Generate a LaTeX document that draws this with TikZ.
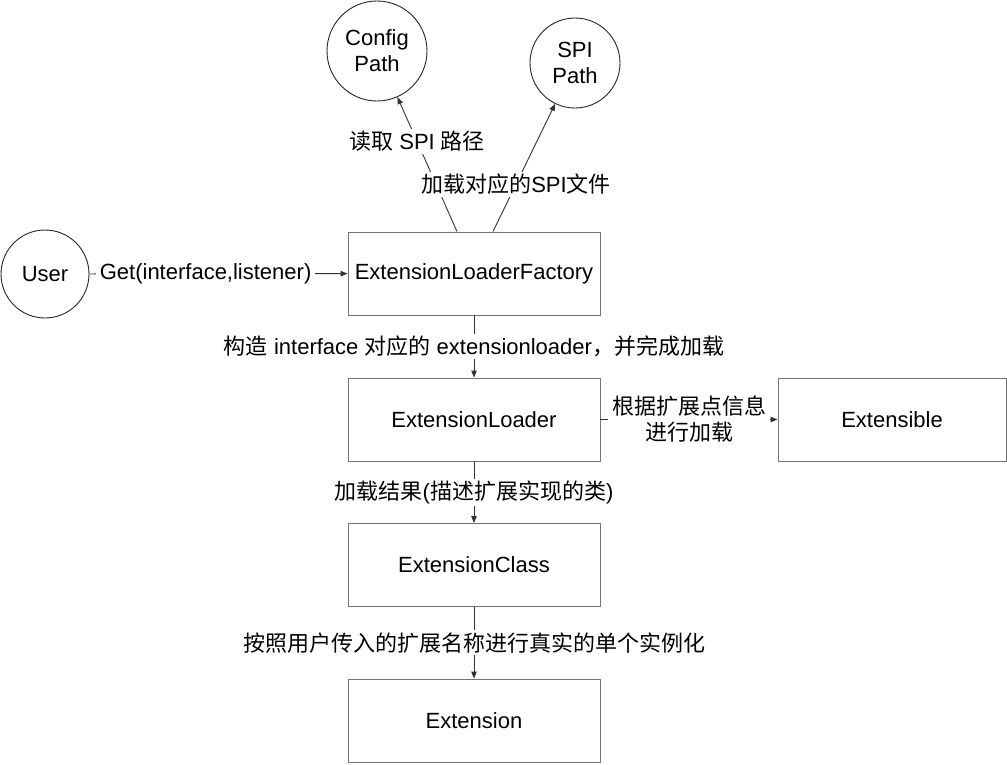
\documentclass[tikz,border=0pt]{standalone}
\usepackage{fontspec}
\setmainfont{Liberation Sans}
\newfontfamily\cjk{Noto Sans CJK SC}
\usetikzlibrary{arrows.meta}
\begin{document}
\begin{tikzpicture}[x=1pt,y=-1pt,
  txt/.style={font=\fontsize{22}{26}\selectfont},
  box/.style={txt, draw=black!55, line width=0.9pt, minimum width=252pt, minimum height=83pt, inner sep=0pt},
  circ/.style={txt, draw=black!85, circle, line width=0.9pt, align=center, inner sep=0pt},
  lbl/.style={txt, fill=white, inner xsep=4pt, inner ysep=2pt, align=center},
  conn/.style={draw=black!80, line width=0.9pt, -{Triangle[length=7pt,width=5.5pt]}}]
\useasboundingbox (0,0) rectangle (1007,764);
\node[box] (elf) at (474,273.5) {ExtensionLoaderFactory};
\node[box] (el) at (474,419.5) {ExtensionLoader};
\node[box, minimum width=228pt] (ext) at (892,419.5) {Extensible};
\node[box] (ec) at (474,565) {ExtensionClass};
\node[box] (e) at (474,720.5) {Extension};
\node[circ, minimum size=100pt] (cfg) at (377,51) {Config\\Path};
\node[circ, minimum size=90pt] (spi) at (575,63) {SPI\\Path};
\node[circ, minimum size=88pt] (user) at (45,274) {User};
\coordinate (s1) at ([xshift=-17pt]elf.north);
\coordinate (s2) at ([xshift=19pt]elf.north);
\draw[conn] (s1) -- node[lbl, pos=0.67] {{\cjk 读取} SPI {\cjk 路径}} (cfg);
\draw[conn] (s2) -- node[lbl, pos=0.37] {{\cjk 加载对应的}SPI{\cjk 文件}} (spi);
\draw[conn] (user) -- node[lbl, pos=0.45] {Get(interface,listener)} (elf);
\draw[conn] (elf) -- node[lbl] {{\cjk 构造} interface {\cjk 对应的} extensionloader{\cjk ，并完成加载}} (el);
\draw[conn] (el) -- node[lbl] {{\cjk 根据扩展点信息}\\{\cjk 进行加载}} (ext);
\draw[conn] (el) -- node[lbl] {{\cjk 加载结果}({\cjk 描述扩展实现的类})} (ec);
\draw[conn] (ec) -- node[lbl] {{\cjk 按照用户传入的扩展名称进行真实的单个实例化}} (e);
\end{tikzpicture}
\end{document}
